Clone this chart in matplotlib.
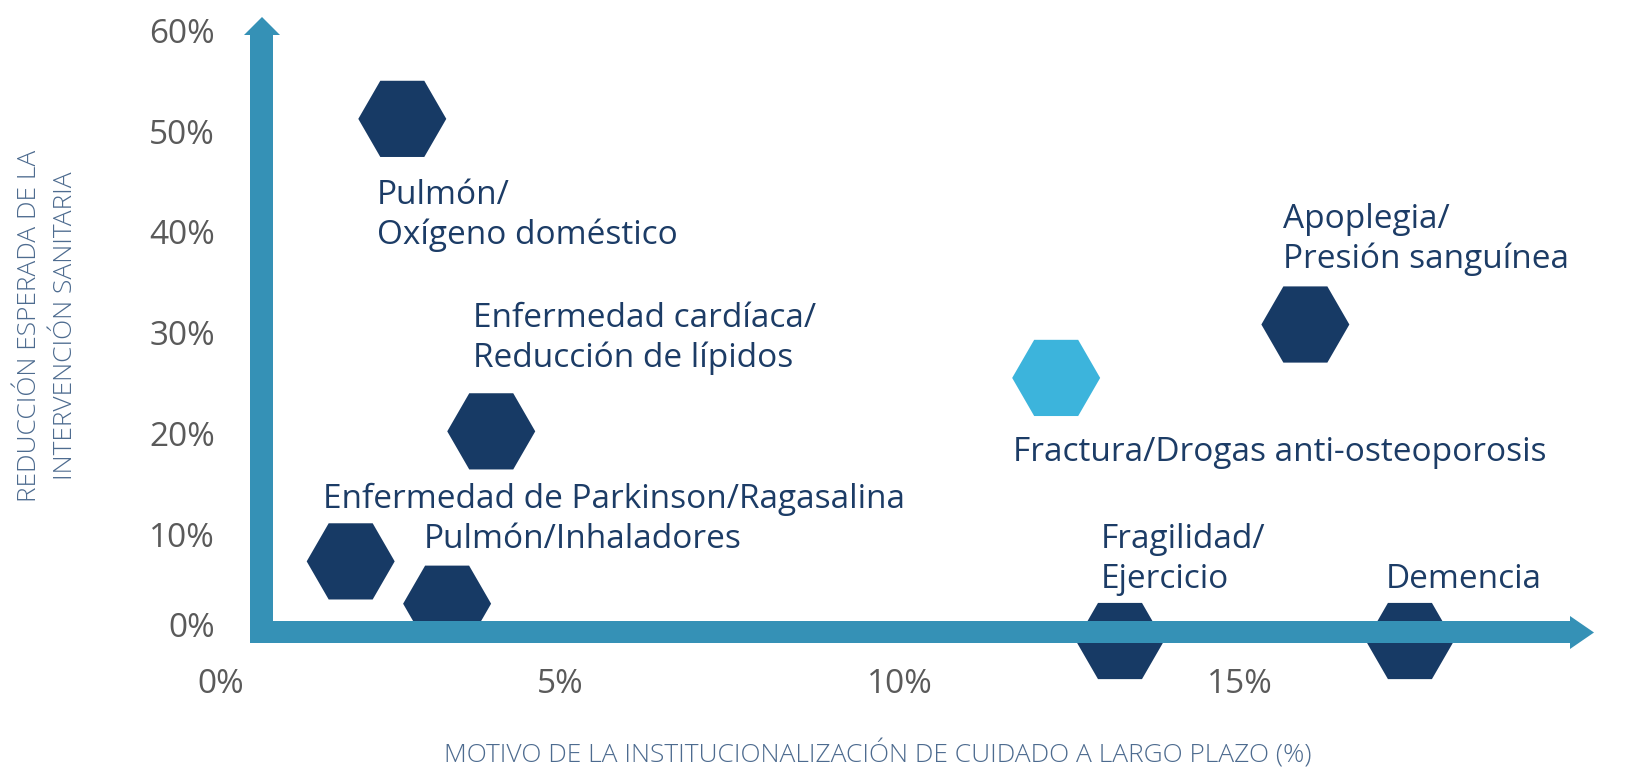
import matplotlib
matplotlib.use("Agg")
import matplotlib.pyplot as plt
from matplotlib.patches import Polygon

# ---------------- data ----------------
labels = [
    "Pulmón/\nOxígeno doméstico",
    "Enfermedad cardíaca/\nReducción de lípidos",
    "Enfermedad de Parkinson/Ragasalina",
    "Pulmón/Inhaladores",
    "Fractura/Drogas anti-osteoporosis",
    "Apoplegia/\nPresión sanguínea",
    "Fragilidad/\nEjercicio",
    "Demencia",
]
x_values = [2.67, 3.98, 1.91, 3.33, 12.30, 15.97, 13.24, 17.51]   # % institucionalización
y_values = [51.6, 20.6, 7.7, 3.5, 25.9, 31.2, -0.2, -0.2]         # % reducción
highlight = [False, False, False, False, True, False, False, False]

x_ticks = [0, 5, 10, 15]
x_tick_labels = ["0%", "5%", "10%", "15%"]
y_ticks = [0, 10, 20, 30, 40, 50, 60]
y_tick_labels = ["0%", "10%", "20%", "30%", "40%", "50%", "60%"]

x_title = "MOTIVO DE LA INSTITUCIONALIZACIÓN DE CUIDADO A LARGO PLAZO (%)"
y_title = "REDUCCIÓN ESPERADA DE LA\nINTERVENCIÓN SANITARIA"

# label anchor positions (left, baseline of last line) in data units
label_x = [2.30, 3.71, 1.50, 2.99, 11.66, 15.64, 12.95, 17.16]
label_y = [39.19, 26.98, 13.0, 9.03, 17.66, 36.81, 5.06, 5.06]

# ---------------- style ----------------
W, H = 1627, 775
DPI = 100
DARK = "#173a65"
LIGHT = "#3cb4dc"
TEXT = "#1c3c66"
ARROW = "#3591b6"
TICK = "#5a5a5a"
TITLE = "#4d6b8f"
FONT = ["Open Sans", "DejaVu Sans"]

plt.rcParams["font.family"] = FONT

fig = plt.figure(figsize=(W / DPI, H / DPI), dpi=DPI)
ax = fig.add_axes([0, 0, 1, 1])
# pixel mapping: x_px = 221 + 67.9*x ; y_px(top) = 639 - 10.08*y
ax.set_xlim(-221 / 67.9, (W - 221) / 67.9)
ax.set_ylim(-(H - 639) / 10.08, 639 / 10.08)
ax.axis("off")


def fpx(x, y):
    return (x / W, 1 - y / H)


# L-shaped axis arrows (decoration, in pixel space)
pts = [(250, 643), (250, 35), (244, 35), (262, 17), (280, 35), (273, 35),
       (273, 621), (1570, 621), (1570, 616), (1594, 632.5), (1570, 649),
       (1570, 643)]
fig.patches.append(Polygon([fpx(*p) for p in pts], closed=True, facecolor=ARROW,
                           edgecolor="none", transform=fig.transFigure, zorder=1))

# hexagons
ms = 88 * 72 / DPI
colors = [LIGHT if h else DARK for h in highlight]
ax.scatter(x_values, y_values, s=ms ** 2, marker="H", c=colors, linewidths=0, zorder=3)

# labels
for lab, lx, ly in zip(labels, label_x, label_y):
    ax.text(lx, ly, lab, ha="left", va="baseline", fontsize=24, color=TEXT,
            linespacing=1.26, zorder=4)

# tick labels
for v, t in zip(y_ticks, y_tick_labels):
    ax.text(-0.09, v if v else 1.0, t, ha="right", va="center", fontsize=24,
            color=TICK)
for v, t in zip(x_ticks, x_tick_labels):
    ax.text(v, -4.56, t, ha="center", va="center", fontsize=24, color=TICK)

# axis titles
fig.text(878 / W, 1 - 754 / H, x_title, ha="center", va="center", fontsize=19,
         color=TITLE, fontweight="light")
fig.text(47.5 / W, 1 - 326 / H, y_title, ha="center", va="center", fontsize=19,
         color=TITLE, fontweight="light", rotation=90, multialignment="center",
         linespacing=1.55)

fig.savefig("out.png", dpi=DPI)
